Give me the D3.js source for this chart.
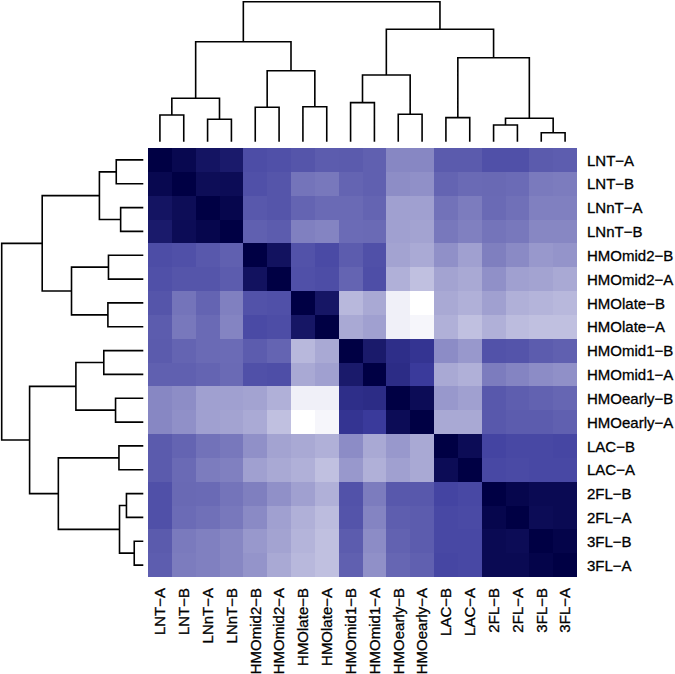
<!DOCTYPE html>
<html>
<head>
<meta charset="utf-8">
<script src="https://cdn.jsdelivr.net/npm/d3@7"></script>
<style>
  html, body { margin: 0; padding: 0; background: #ffffff; }
  svg { display: block; }
  text { font-family: "Liberation Sans", Arial, Helvetica, sans-serif; }
</style>
</head>
<body>
<svg id="chart" width="675" height="674"></svg>
<script>
// ---------- DATA ----------
const labels = ["LNT-A","LNT-B","LNnT-A","LNnT-B","HMOmid2-B","HMOmid2-A","HMOlate-B","HMOlate-A",
  "HMOmid1-B","HMOmid1-A","HMOearly-B","HMOearly-A","LAC-B","LAC-A","2FL-B","2FL-A","3FL-B","3FL-A"];

// upper triangle of the (symmetric) similarity matrix, row i, columns i+1..17
const upperTriangle = [
  [0.96,0.90,0.87,0.64,0.63,0.61,0.585,0.59,0.57,0.43,0.43,0.59,0.59,0.63,0.63,0.59,0.58],
  [0.935,0.94,0.63,0.61,0.50,0.485,0.556,0.57,0.41,0.40,0.556,0.535,0.54,0.53,0.477,0.47],
  [0.97,0.60,0.61,0.556,0.535,0.535,0.556,0.34,0.34,0.506,0.47,0.535,0.513,0.456,0.456],
  [0.57,0.585,0.456,0.44,0.53,0.535,0.34,0.33,0.485,0.456,0.50,0.485,0.43,0.43],
  [0.91,0.62,0.65,0.585,0.63,0.33,0.305,0.40,0.34,0.46,0.42,0.37,0.384],
  [0.63,0.64,0.556,0.635,0.284,0.226,0.33,0.31,0.40,0.34,0.33,0.31],
  [0.89,0.255,0.31,0.054,0.0,0.31,0.284,0.34,0.284,0.27,0.255],
  [0.31,0.34,0.054,0.032,0.284,0.226,0.284,0.24,0.226,0.226],
  [0.87,0.77,0.74,0.413,0.37,0.62,0.614,0.585,0.57],
  [0.78,0.71,0.31,0.284,0.47,0.44,0.413,0.40],
  [0.94,0.37,0.34,0.60,0.578,0.564,0.55],
  [0.31,0.31,0.60,0.585,0.585,0.57],
  [0.94,0.67,0.657,0.657,0.664],
  [0.657,0.65,0.657,0.657],
  [0.97,0.95,0.95],
  [0.94,0.95],
  [0.98],
  []
];
const diagonalValue = 1.0;

// hierarchical clustering merges (hclust style: negative = leaf number, positive = merge step)
const mergeLeft   = [-17, -15, -3, 2, -13, -1, -11, -5, -7, -9, 6, 10, 8, 5, 11, 12, 15];
const mergeRight  = [-18, -16, -4, 1, -14, -2, -12, -6, -8, -10, 3, 7, 9, 4, 13, 14, 16];
const mergeHeight = [0.064, 0.119, 0.160, 0.168, 0.172, 0.191, 0.196, 0.246, 0.25, 0.279,
                     0.31, 0.476, 0.507, 0.60, 0.714, 0.803, 1.0];

// ---------- LAYOUT ----------
const svg = d3.select("#chart");
const n = labels.length;
const hm = { x0: 148, x1: 577, y0: 148, y1: 577 };

const xBand = d3.scaleBand().domain(d3.range(n)).range([hm.x0, hm.x1]).paddingInner(0).paddingOuter(0);
const yBand = d3.scaleBand().domain(d3.range(n)).range([hm.y0, hm.y1]).paddingInner(0).paddingOuter(0);

const color = d3.scaleLinear()
  .domain([0, 0.7, 1])
  .range(["#ffffff", "#3c3c9e", "#000044"])
  .interpolate(d3.interpolateRgb)
  .clamp(true);

// full matrix
const matrix = d3.range(n).map(() => new Array(n).fill(0));
for (let i = 0; i < n; i++) {
  matrix[i][i] = diagonalValue;
  upperTriangle[i].forEach((v, k) => {
    const j = i + 1 + k;
    matrix[i][j] = v;
    matrix[j][i] = v;
  });
}
const cells = [];
for (let i = 0; i < n; i++) for (let j = 0; j < n; j++) cells.push({ r: i, c: j, v: matrix[i][j] });

svg.append("g").selectAll("rect").data(cells).join("rect")
  .attr("x", d => xBand(d.c))
  .attr("y", d => yBand(d.r))
  .attr("width", xBand.bandwidth() + 0.4)
  .attr("height", yBand.bandwidth() + 0.4)
  .attr("fill", d => color(d.v))
  .attr("shape-rendering", "crispEdges");

// ---------- DENDROGRAMS ----------
function buildNodes(band) {
  const nodes = [];
  const get = idx => idx < 0 ? { pos: band(-idx - 1) + band.bandwidth() / 2, h: 0 } : nodes[idx - 1];
  for (let k = 0; k < mergeHeight.length; k++) {
    const a = get(mergeLeft[k]), b = get(mergeRight[k]);
    nodes.push({ pos: (a.pos + b.pos) / 2, h: mergeHeight[k], a, b });
  }
  return nodes;
}

// top dendrogram
const topH = d3.scaleLinear().domain([0, 1]).range([141.7, 1.7]);
const topNodes = buildNodes(xBand);
const topPath = d3.path();
topNodes.forEach(nd => {
  topPath.moveTo(nd.a.pos, topH(nd.a.h));
  topPath.lineTo(nd.a.pos, topH(nd.h));
  topPath.lineTo(nd.b.pos, topH(nd.h));
  topPath.lineTo(nd.b.pos, topH(nd.b.h));
});
svg.append("path").attr("d", topPath.toString())
  .attr("fill", "none").attr("stroke", "#000").attr("stroke-width", 1.6);

// left dendrogram
const leftH = d3.scaleLinear().domain([0, 1]).range([143.3, 1.7]);
const leftNodes = buildNodes(yBand);
const leftPath = d3.path();
leftNodes.forEach(nd => {
  leftPath.moveTo(leftH(nd.a.h), nd.a.pos);
  leftPath.lineTo(leftH(nd.h), nd.a.pos);
  leftPath.lineTo(leftH(nd.h), nd.b.pos);
  leftPath.lineTo(leftH(nd.b.h), nd.b.pos);
});
svg.append("path").attr("d", leftPath.toString())
  .attr("fill", "none").attr("stroke", "#000").attr("stroke-width", 1.6);

// ---------- LABELS ----------
const fmt = s => s.replace("-", "\u2212");
svg.append("g").selectAll("text").data(labels).join("text")
  .attr("x", 587)
  .attr("y", (d, i) => yBand(i) + yBand.bandwidth() / 2 + 5.6)
  .attr("font-size", 15)
  .attr("fill", "#000")
  .attr("stroke", "#000").attr("stroke-width", 0.3)
  .text(fmt);

svg.append("g").selectAll("text").data(labels).join("text")
  .attr("transform", (d, i) => `translate(${xBand(i) + xBand.bandwidth() / 2 + 5.4},588) rotate(-90)`)
  .attr("text-anchor", "end")
  .attr("font-size", 15)
  .attr("fill", "#000")
  .attr("stroke", "#000").attr("stroke-width", 0.3)
  .text(fmt);
</script>
</body>
</html>
